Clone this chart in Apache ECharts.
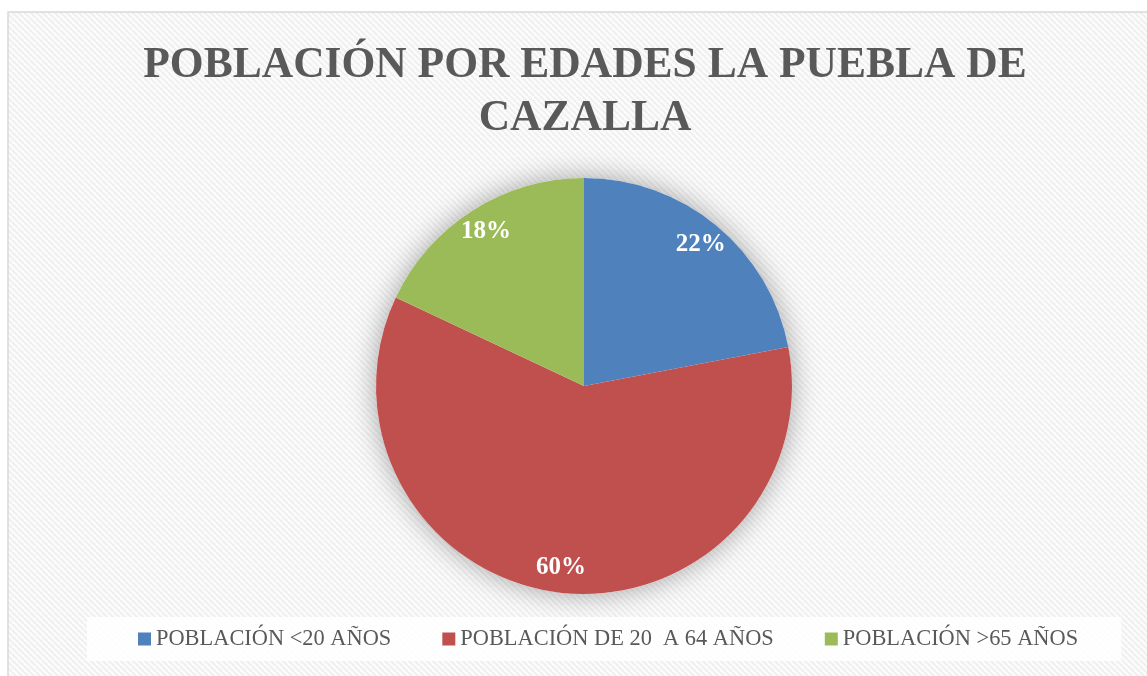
<!DOCTYPE html>
<html>
<head>
<meta charset="utf-8">
<title>Población por edades La Puebla de Cazalla</title>
<script src="https://cdn.jsdelivr.net/npm/echarts@6/dist/echarts.min.js"></script>
<style>
  html, body { margin: 0; padding: 0; background: #fff; }
  #chart { width: 1147px; height: 676px; }
</style>
</head>
<body>
<div id="chart"></div>
<script>
// datos del gráfico
var categorias = ['POBLACIÓN <20 AÑOS', 'POBLACIÓN DE 20  A 64 AÑOS', 'POBLACIÓN >65 AÑOS'];
var porcentajes = [22, 60, 18];
var colores = ['#4F81BD', '#C0504D', '#9BBB59'];
var titulo = 'POBLACIÓN POR EDADES LA PUEBLA DE\nCAZALLA';

// trama diagonal del fondo
function crearTrama() {
  var c = document.createElement('canvas');
  c.width = 6;
  c.height = 6;
  var ctx = c.getContext('2d');
  ctx.fillStyle = '#fcfcfc';
  ctx.fillRect(0, 0, 6, 6);
  ctx.strokeStyle = '#efefef';
  ctx.lineWidth = 2;
  for (var k = -6; k <= 6; k += 6) {
    ctx.beginPath();
    ctx.moveTo(k, 0);
    ctx.lineTo(k + 6, 6);
    ctx.stroke();
  }
  return c;
}

var datos = [];
for (var i = 0; i < categorias.length; i++) {
  datos.push({ name: categorias[i], value: porcentajes[i], itemStyle: { color: colores[i] } });
}

// anillo invisible solo para colocar las etiquetas más cerca del borde
var datosEtiquetas = [];
for (var j = 0; j < categorias.length; j++) {
  datosEtiquetas.push({ name: categorias[j], value: porcentajes[j] });
}

var total = 0;
for (var t = 0; t < porcentajes.length; t++) total += porcentajes[t];

var chart = echarts.init(document.getElementById('chart'));

var option = {
  animation: false,
  backgroundColor: '#fff',
  graphic: [{
    type: 'rect',
    z: -10,
    silent: true,
    shape: { x: 8, y: 12, width: 1160, height: 700 },
    style: {
      fill: { image: crearTrama(), repeat: 'repeat' },
      stroke: '#d9d9d9',
      lineWidth: 1.5
    }
  }],
  title: {
    text: titulo,
    left: 585,
    top: 39,
    padding: 0,
    textAlign: 'center',
    textStyle: {
      fontFamily: 'Liberation Serif',
      fontWeight: 'bold',
      fontSize: 43.5,
      lineHeight: 53,
      color: '#595959'
    }
  },
  legend: {
    data: categorias,
    left: 87,
    top: 617,
    orient: 'horizontal',
    itemWidth: 13,
    itemHeight: 13,
    itemGap: 51,
    icon: 'rect',
    padding: [11, 43, 11, 51],
    backgroundColor: 'rgba(255,255,255,0.85)',
    selectedMode: false,
    textStyle: {
      fontFamily: 'Liberation Serif',
      fontSize: 22.4,
      color: '#595959'
    }
  },
  series: [
    {
      // sectores
      type: 'pie',
      z: 3,
      center: [584, 386],
      radius: [0, 208],
      startAngle: 90,
      clockwise: true,
      silent: true,
      label: { show: false },
      labelLine: { show: false },
      data: datos
    },
    {
      // etiquetas de porcentaje
      type: 'pie',
      z: 4,
      center: [584, 386],
      radius: [152, 208],
      startAngle: 90,
      clockwise: true,
      silent: true,
      itemStyle: { color: 'rgba(0,0,0,0)' },
      label: {
        show: true,
        position: 'inside',
        formatter: '{d}%',
        fontFamily: 'Liberation Serif',
        fontWeight: 'bold',
        fontSize: 25,
        color: '#fff'
      },
      labelLine: { show: false },
      data: datosEtiquetas
    },
    {
      // sombra bajo el círculo
      type: 'pie',
      z: 1,
      center: [584, 386],
      radius: [0, 208],
      silent: true,
      label: { show: false },
      labelLine: { show: false },
      itemStyle: {
        color: '#fff',
        shadowBlur: 28,
        shadowColor: 'rgba(0,0,0,0.35)'
      },
      data: [{ name: 'sombra', value: total }]
    }
  ]
};

chart.setOption(option);
</script>
</body>
</html>
